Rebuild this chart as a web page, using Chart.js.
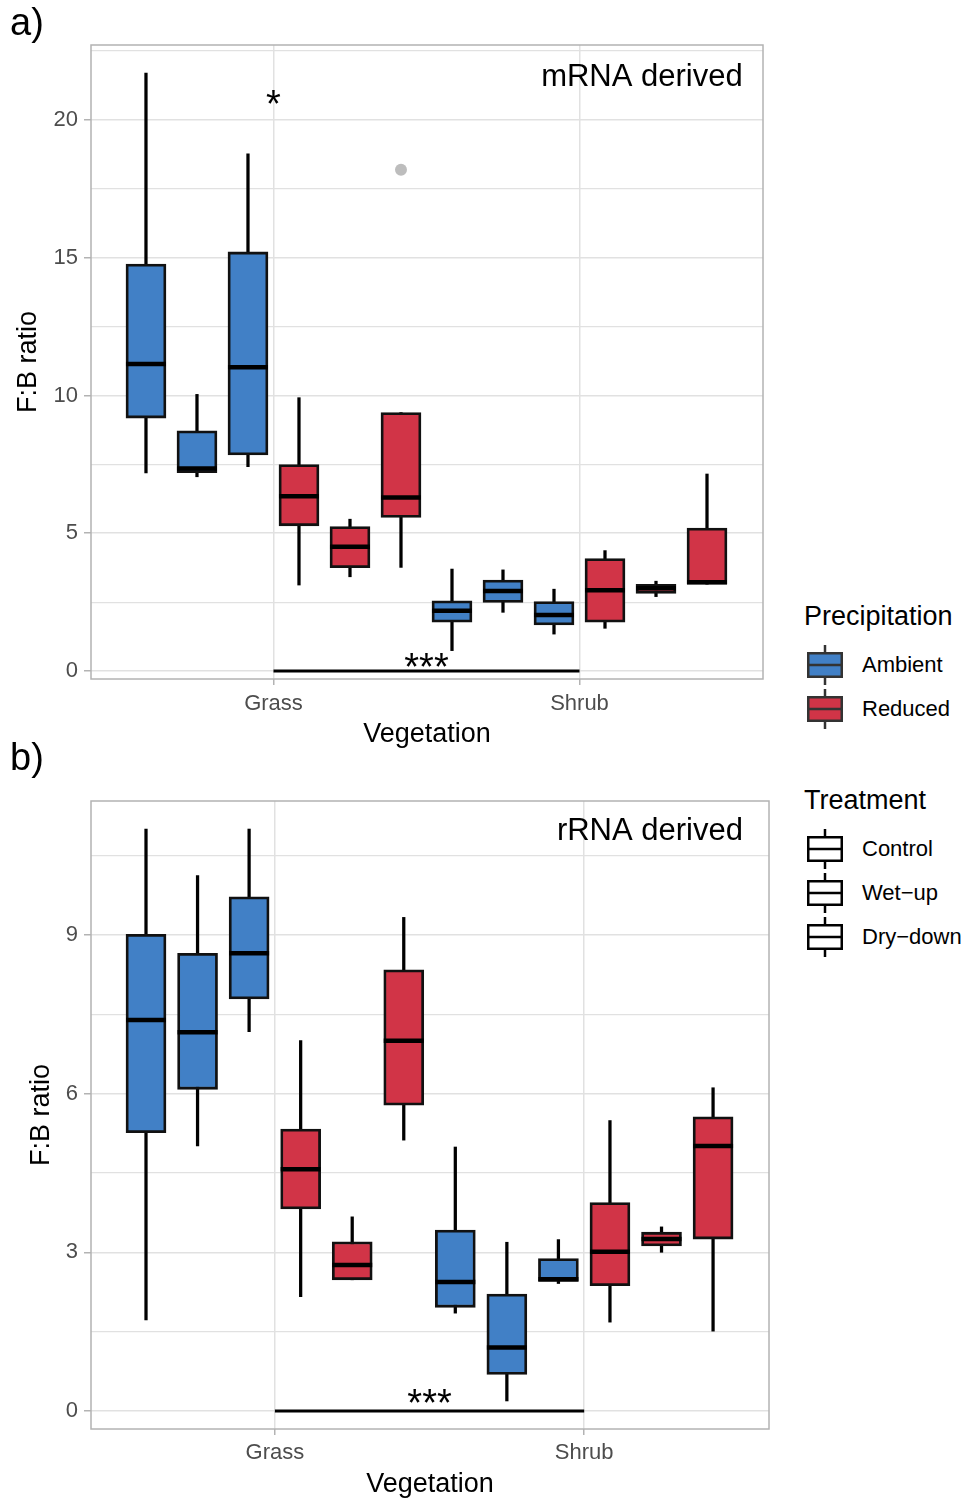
<!DOCTYPE html>
<html><head><meta charset="utf-8">
<script src="https://cdn.jsdelivr.net/npm/chart.js@4.4.1/dist/chart.umd.min.js"></script>
<style>
body{margin:0;background:#fff;width:966px;height:1499px;position:relative;overflow:hidden;font-family:'Liberation Sans',Arial,Helvetica,sans-serif;}
canvas{position:absolute;left:0;}
.t{position:absolute;white-space:nowrap;color:#000;}
.g{position:absolute;}
</style></head><body>
<canvas id="ca" width="780" height="750" style="top:0px"></canvas>
<canvas id="cb" width="780" height="749" style="top:750px"></canvas>
<div class="t" style="left:10px;top:0px;font-size:38px;line-height:44px">a)</div>
<div class="t" style="left:10px;top:735px;font-size:38px;line-height:44px">b)</div>
<div id="legend"></div>
<script>
// ---------- data ----------
const positions = [1,2,3,4,5,6,7,8,9,10,11,12];
const vegetation = ['Grass','Grass','Grass','Grass','Grass','Grass','Shrub','Shrub','Shrub','Shrub','Shrub','Shrub'];
const precipitation = ['Ambient','Ambient','Ambient','Reduced','Reduced','Reduced','Ambient','Ambient','Ambient','Reduced','Reduced','Reduced'];
const treatment = ['Control','Wet-up','Dry-down','Control','Wet-up','Dry-down','Control','Wet-up','Dry-down','Control','Wet-up','Dry-down'];
const vegTicks = [3.5, 9.5];
const vegLabels = ['Grass','Shrub'];

// a) mRNA derived
const mrnaMin = [7.19, 7.05, 7.42, 3.12, 3.42, 3.76, 0.74, 2.13, 1.34, 1.55, 2.70, 3.15];
const mrnaQ1  = [9.18, 7.20, 7.84, 5.27, 3.75, 5.57, 1.77, 2.49, 1.67, 1.77, 2.82, 3.15];
const mrnaMed = [11.14, 7.35, 11.02, 6.34, 4.51, 6.30, 2.19, 2.90, 2.03, 2.93, 3.00, 3.22];
const mrnaQ3  = [14.77, 8.72, 15.21, 7.49, 5.24, 9.38, 2.55, 3.30, 2.52, 4.08, 3.15, 5.19];
const mrnaMax = [21.70, 10.04, 18.77, 9.92, 5.51, 9.38, 3.70, 3.67, 2.97, 4.37, 3.26, 7.15];
const mrnaOutlierX = [6];
const mrnaOutlierY = [18.19];
const mrnaMajorTicks = [0, 5, 10, 15, 20];
const mrnaMinorTicks = [2.5, 7.5, 12.5, 17.5, 22.5];
const mrnaStarText = ['*', '***'];
const mrnaStarX = [3.5, 6.5];
const mrnaStarY = [20.76, 0.34];

// b) rRNA derived
const rrnaMin = [1.72, 5.01, 7.17, 2.16, 2.48, 5.12, 1.85, 0.19, 2.41, 1.68, 3.00, 1.51];
const rrnaQ1  = [5.26, 6.08, 7.79, 3.82, 2.48, 5.78, 1.96, 0.69, 2.45, 2.37, 3.12, 3.25];
const rrnaMed = [7.39, 7.16, 8.65, 4.57, 2.76, 7.00, 2.44, 1.20, 2.49, 3.01, 3.25, 5.01];
const rrnaQ3  = [9.01, 8.65, 9.72, 5.33, 3.20, 8.34, 3.42, 2.21, 2.88, 3.94, 3.38, 5.56];
const rrnaMax = [11.00, 10.12, 11.00, 7.00, 3.67, 9.33, 4.99, 3.19, 3.24, 5.49, 3.48, 6.11];
const rrnaOutlierX = [];
const rrnaOutlierY = [];
const rrnaMajorTicks = [0, 3, 6, 9];
const rrnaMinorTicks = [1.5, 4.5, 7.5, 10.5];
const rrnaStarText = ['***'];
const rrnaStarX = [6.5];
const rrnaStarY = [0.24];

// ---------- styling ----------
const FAM = "'Liberation Sans', Arial, Helvetica, sans-serif";
const BLUE = '#4180c6';
const RED = '#d13447';
Chart.defaults.font.family = FAM;
Chart.defaults.animation = false;

function buildChart(id, p) {
  const colors = precipitation.map(k => k === 'Ambient' ? BLUE : RED);
  const whiskerData = positions.map((x, i) => ({x, y: [p.min[i], p.max[i]]}));
  const boxData = positions.map((x, i) => ({x, y: [p.q1[i], p.q3[i]]}));
  const medData = positions.map((x, i) => ({x, y: p.med[i]}));
  const outData = p.outX.map((x, i) => ({x, y: p.outY[i]}));
  const sigData = [{x: vegTicks[0], y: 0}, {x: vegTicks[1], y: 0}];
  const ticksY = [...p.major, ...p.minor].sort((a, b) => a - b);

  const annot = {
    id: 'annot',
    afterDatasetsDraw(chart) {
      const {ctx, scales: {x, y}} = chart;
      ctx.save();
      ctx.fillStyle = '#000';
      ctx.font = '38px ' + FAM;
      ctx.textAlign = 'center';
      ctx.textBaseline = 'alphabetic';
      p.starText.forEach((s, i) => {
        ctx.fillText(s, x.getPixelForValue(p.starX[i]), y.getPixelForValue(p.starY[i]) + 18);
      });
      ctx.font = '31px ' + FAM;
      ctx.textAlign = 'right';
      ctx.textBaseline = 'middle';
      ctx.fillText(p.title, x.getPixelForValue(p.titleX), y.getPixelForValue(p.titleY));
      ctx.restore();
    },
    afterDraw(chart) {
      const {ctx, chartArea: a} = chart;
      ctx.save();
      ctx.strokeStyle = '#b3b3b3';
      ctx.lineWidth = 1.5;
      ctx.strokeRect(a.left, a.top, a.right - a.left, a.bottom - a.top);
      ctx.restore();
    }
  };

  return new Chart(document.getElementById(id), {
    type: 'bar',
    data: {
      datasets: [
        {type: 'line', label: 'sig', data: sigData, borderColor: '#000', borderWidth: 3, pointRadius: 0, order: 0},
        {type: 'scatter', label: 'Median', data: medData, pointStyle: 'line', pointRadius: 20,
         pointBorderColor: '#000', pointBorderWidth: 4.5, pointBackgroundColor: '#000', order: 1},
        {type: 'bar', label: 'IQR', data: boxData, backgroundColor: colors, borderColor: '#111',
         borderWidth: 2.8, borderSkipped: false, grouped: false, barPercentage: 1, categoryPercentage: 1,
         maxBarThickness: 40, order: 2},
        {type: 'bar', label: 'Whisker', data: whiskerData, backgroundColor: '#000', borderWidth: 0,
         grouped: false, barPercentage: 1, categoryPercentage: 1, maxBarThickness: 2.6, order: 3},
        {type: 'scatter', label: 'Outlier', data: outData, pointBackgroundColor: '#bdbdbd',
         pointBorderWidth: 0, pointRadius: 6, order: 4}
      ]
    },
    options: {
      responsive: false,
      devicePixelRatio: 1,
      animation: false,
      events: [],
      layout: {autoPadding: false, padding: {left: 0, top: p.padTop, right: p.padRight, bottom: 0}},
      plugins: {legend: {display: false}, tooltip: {enabled: false}},
      scales: {
        x: {
          type: 'linear', min: p.xMin, max: p.xMax, offset: false,
          afterBuildTicks: s => { s.ticks = vegTicks.map(v => ({value: v})); },
          afterFit: s => { s.height = p.xAxisH; },
          ticks: {autoSkip: false, maxRotation: 0, minRotation: 0, padding: p.xTickPad, color: '#4d4d4d',
                  font: {size: 22}, callback: v => { const k = vegTicks.indexOf(v); return k >= 0 ? vegLabels[k] : ''; }},
          grid: {offset: false, color: '#e1e1e1', lineWidth: 1.5, tickLength: 6, tickColor: '#b3b3b3', tickWidth: 1.5},
          border: {display: false},
          title: {display: true, text: 'Vegetation', color: '#000', font: {size: 27, lineHeight: 1.1}, padding: {top: 0, bottom: p.xTitlePad}}
        },
        y: {
          type: 'linear', min: p.yMin, max: p.yMax,
          afterBuildTicks: s => { s.ticks = ticksY.map(v => ({value: v})); },
          afterFit: s => { s.width = 91; },
          ticks: {autoSkip: false, padding: 6, color: '#4d4d4d', font: {size: 22},
                  callback: v => p.major.includes(v) ? String(v) : ''},
          grid: {color: '#e1e1e1',
                 lineWidth: c => (c.tick && p.major.includes(c.tick.value)) ? 1.5 : 1.2,
                 tickLength: 7, tickWidth: 1.5,
                 tickColor: c => (c.tick && p.major.includes(c.tick.value)) ? '#b3b3b3' : 'rgba(0,0,0,0)'},
          border: {display: false},
          title: {display: true, text: 'F:B ratio', color: '#000', font: {size: 27}, padding: {top: p.yTitlePad, bottom: 0}}
        }
      }
    },
    plugins: [annot]
  });
}

buildChart('ca', {
  min: mrnaMin, q1: mrnaQ1, med: mrnaMed, q3: mrnaQ3, max: mrnaMax,
  outX: mrnaOutlierX, outY: mrnaOutlierY, major: mrnaMajorTicks, minor: mrnaMinorTicks,
  starText: mrnaStarText, starX: mrnaStarX, starY: mrnaStarY,
  title: 'mRNA derived', titleX: 12.70, titleY: 21.55,
  xMin: -0.078, xMax: 13.098, yMin: -0.29, yMax: 22.72,
  padTop: 45, padRight: 17, xAxisH: 71, xTickPad: 6, xTitlePad: 1, yTitlePad: 12
});
buildChart('cb', {
  min: rrnaMin, q1: rrnaQ1, med: rrnaMed, q3: rrnaQ3, max: rrnaMax,
  outX: rrnaOutlierX, outY: rrnaOutlierY, major: rrnaMajorTicks, minor: rrnaMinorTicks,
  starText: rrnaStarText, starX: rrnaStarX, starY: rrnaStarY,
  title: 'rRNA derived', titleX: 12.58, titleY: 10.95,
  xMin: -0.067, xMax: 13.085, yMin: -0.34, yMax: 11.53,
  padTop: 51, padRight: 11, xAxisH: 70, xTickPad: 5, xTitlePad: 0, yTitlePad: 25
});

// ---------- legend (HTML) ----------
const legendGroups = [
  {title: 'Precipitation', titleY: 616, items: [
    {label: 'Ambient', fill: BLUE, stroke: '#333', y: 665},
    {label: 'Reduced', fill: RED, stroke: '#333', y: 709}]},
  {title: 'Treatment', titleY: 800, items: [
    {label: 'Control', fill: '#fff', stroke: '#000', y: 849},
    {label: 'Wet\u2212up', fill: '#fff', stroke: '#000', y: 893},
    {label: 'Dry\u2212down', fill: '#fff', stroke: '#000', y: 937}]}
];
const lg = document.getElementById('legend');
let html = '';
legendGroups.forEach(g => {
  html += `<div class="t" style="left:804px;top:${g.titleY - 17}px;font-size:27px;line-height:34px">${g.title}</div>`;
  g.items.forEach(it => {
    html += `<svg class="g" style="left:806px;top:${it.y - 22}px" width="38" height="44">
      <line x1="19" y1="2" x2="19" y2="10" stroke="${it.stroke}" stroke-width="2.5"/>
      <line x1="19" y1="34" x2="19" y2="42" stroke="${it.stroke}" stroke-width="2.5"/>
      <rect x="2.25" y="10.25" width="33.5" height="23.5" fill="${it.fill}" stroke="${it.stroke}" stroke-width="2.5"/>
      <line x1="2" y1="22" x2="36" y2="22" stroke="${it.stroke}" stroke-width="2.5"/>
    </svg>`;
    html += `<div class="t" style="left:862px;top:${it.y - 14}px;font-size:22px;line-height:28px">${it.label}</div>`;
  });
});
lg.innerHTML = html;
</script>
</body></html>
